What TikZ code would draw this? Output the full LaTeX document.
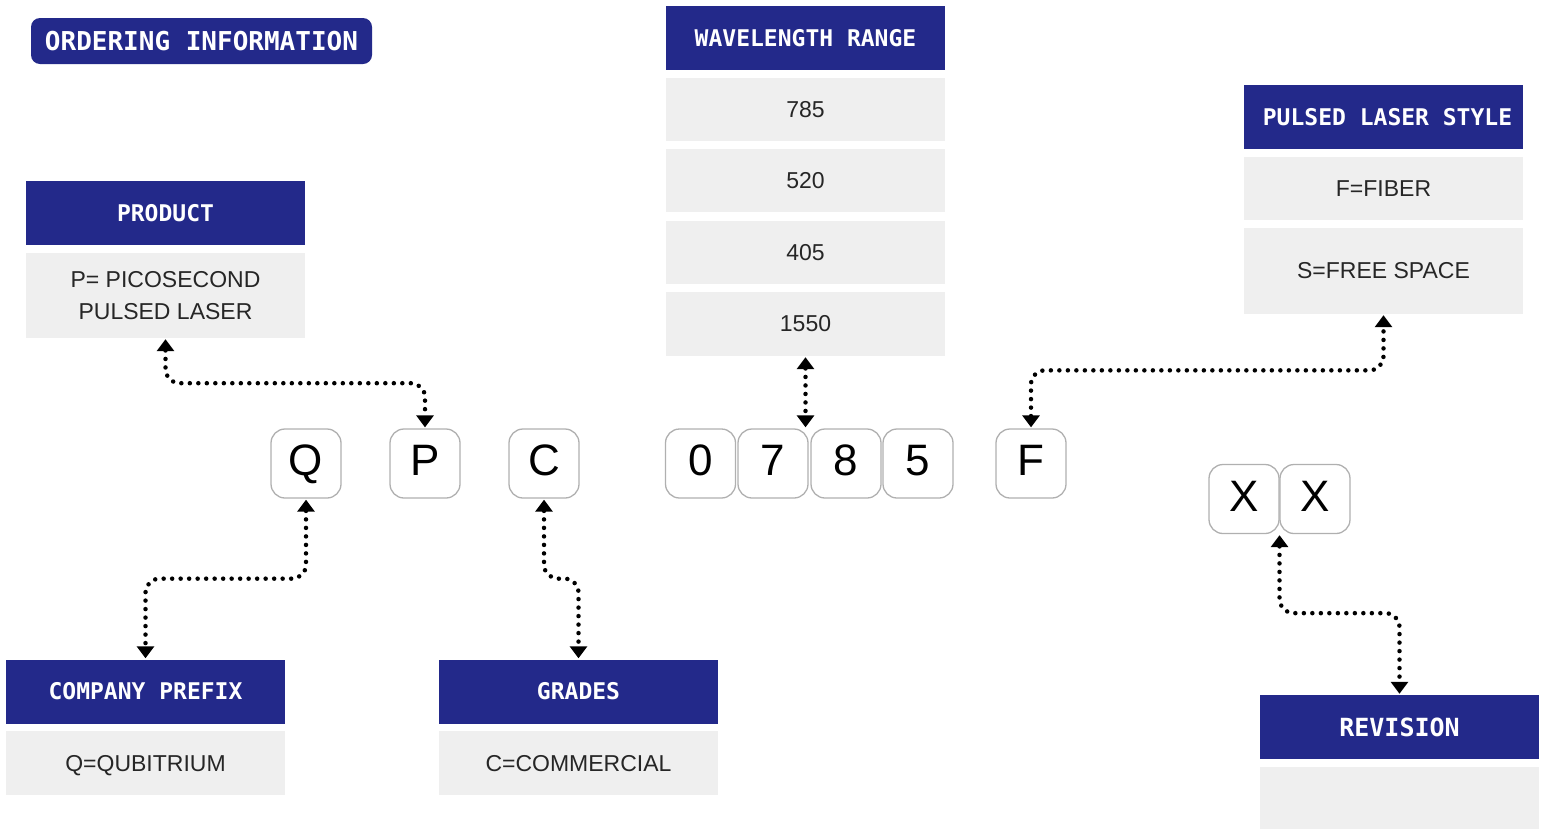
\documentclass[tikz,border=0pt]{standalone}
\usepackage{fontspec}
\setmainfont{Liberation Sans}
\newfontfamily\hdfont{DejaVu Sans Mono}
\usetikzlibrary{arrows.meta,calc}
\definecolor{navy}{HTML}{23298A}
\definecolor{cellgray}{HTML}{EFEFEF}
\definecolor{keyedge}{HTML}{B0B0B0}
\tikzset{
  hdr/.style={fill=navy, draw=none, text=white, minimum width=279pt, minimum height=64pt, inner sep=0pt, font=\hdfont\bfseries\fontsize{23}{23}\selectfont},
  cell/.style={fill=cellgray, draw=none, text=black!85, minimum width=279pt, inner sep=0pt, align=center, font=\fontsize{23}{32}\selectfont},
  key/.style={draw=keyedge, line width=1.3pt, rounded corners=14pt, fill=white, minimum width=70pt, minimum height=69pt, inner sep=0pt, text height=28pt, text depth=4pt, font=\fontsize{44}{44}\selectfont},
  conn/.style={line width=4.5pt, dash pattern=on 0pt off 8.5pt, line cap=round, rounded corners=14pt,
    {Triangle[width=17pt,length=12pt,line cap=butt]}-{Triangle[width=17pt,length=12pt,line cap=butt]}, shorten <=1pt, shorten >=1pt}
}
\begin{document}
\begin{tikzpicture}[x=1pt,y=-1pt]
\useasboundingbox (0,0) rectangle (1541,828);
% title
\node[fill=navy, rounded corners=9pt, minimum width=341pt, minimum height=46pt, inner sep=0pt, text=white, font=\hdfont\bfseries\fontsize{26}{26}\selectfont] (title) at (201.5,41) {ORDERING INFORMATION};
% wavelength
\node[hdr] (wlh) at (805.5,38) {WAVELENGTH RANGE};
\node[cell, minimum height=63pt] (w1) at (805.5,109.5) {785};
\node[cell, minimum height=63pt] (w2) at (805.5,180.5) {520};
\node[cell, minimum height=63pt] (w3) at (805.5,252.5) {405};
\node[cell, minimum height=64pt] (w4) at (805.5,324) {1550};
% pulsed laser style
\node[hdr] (plh) at (1383.5,117) {\hspace*{8pt}PULSED LASER STYLE};
\node[cell, minimum height=63pt] (p1) at (1383.5,188.5) {F=FIBER};
\node[cell, minimum height=86pt] (p2) at (1383.5,271) {S=FREE SPACE};
% product
\node[hdr] (prh) at (165.5,213) {PRODUCT};
\node[cell, minimum height=85pt] (pr1) at (165.5,295.5) {P= PICOSECOND\\PULSED LASER};
% company prefix
\node[hdr] (cph) at (145.5,691.5) {COMPANY PREFIX};
\node[cell, minimum height=64pt, text height=16.5pt, text depth=0pt] (cp1) at (145.5,763) {Q=QUBITRIUM};
% grades
\node[hdr] (grh) at (578.5,691.5) {GRADES};
\node[cell, minimum height=64pt, text height=16.5pt, text depth=0pt] (gr1) at (578.5,763) {C=COMMERCIAL};
% revision
\node[hdr, font=\hdfont\bfseries\fontsize{25}{25}\selectfont] (rvh) at (1399.5,727) {REVISION};
\node[cell, minimum height=62pt] (rv1) at (1399.5,798) {};
% keys
\node[key] (kq) at (306,463.5) {Q};
\node[key] (kp) at (425,463.5) {P};
\node[key] (kc) at (544,463.5) {C};
\node[key] (k0) at (700.5,463.5) {0};
\node[key] (k7) at (773,463.5) {7};
\node[key] (k8) at (846,463.5) {8};
\node[key] (k5) at (918,463.5) {5};
\node[key] (kf) at (1031,463.5) {F};
\node[key] (kx1) at (1244,499) {X};
\node[key] (kx2) at (1315,499) {X};
% connectors
\coordinate (kxx) at ($(kx1.south east)!0.5!(kx2.south west)$);
\draw[conn] (pr1.south) -- ++(0,45) -| (kp.north);
\draw[conn] (kq.south) -- ++(0,80) -| (cph.north);
\draw[conn] (kc.south) -- ++(0,80) -| (grh.north);
\draw[conn] (w4.south) -- (w4.south |- k7.north);
\draw[conn] (kf.north) -- ++(0,-58) -| (p2.south);
\draw[conn] (kxx) -- ++(0,79) -| (rvh.north);
\end{tikzpicture}
\end{document}
